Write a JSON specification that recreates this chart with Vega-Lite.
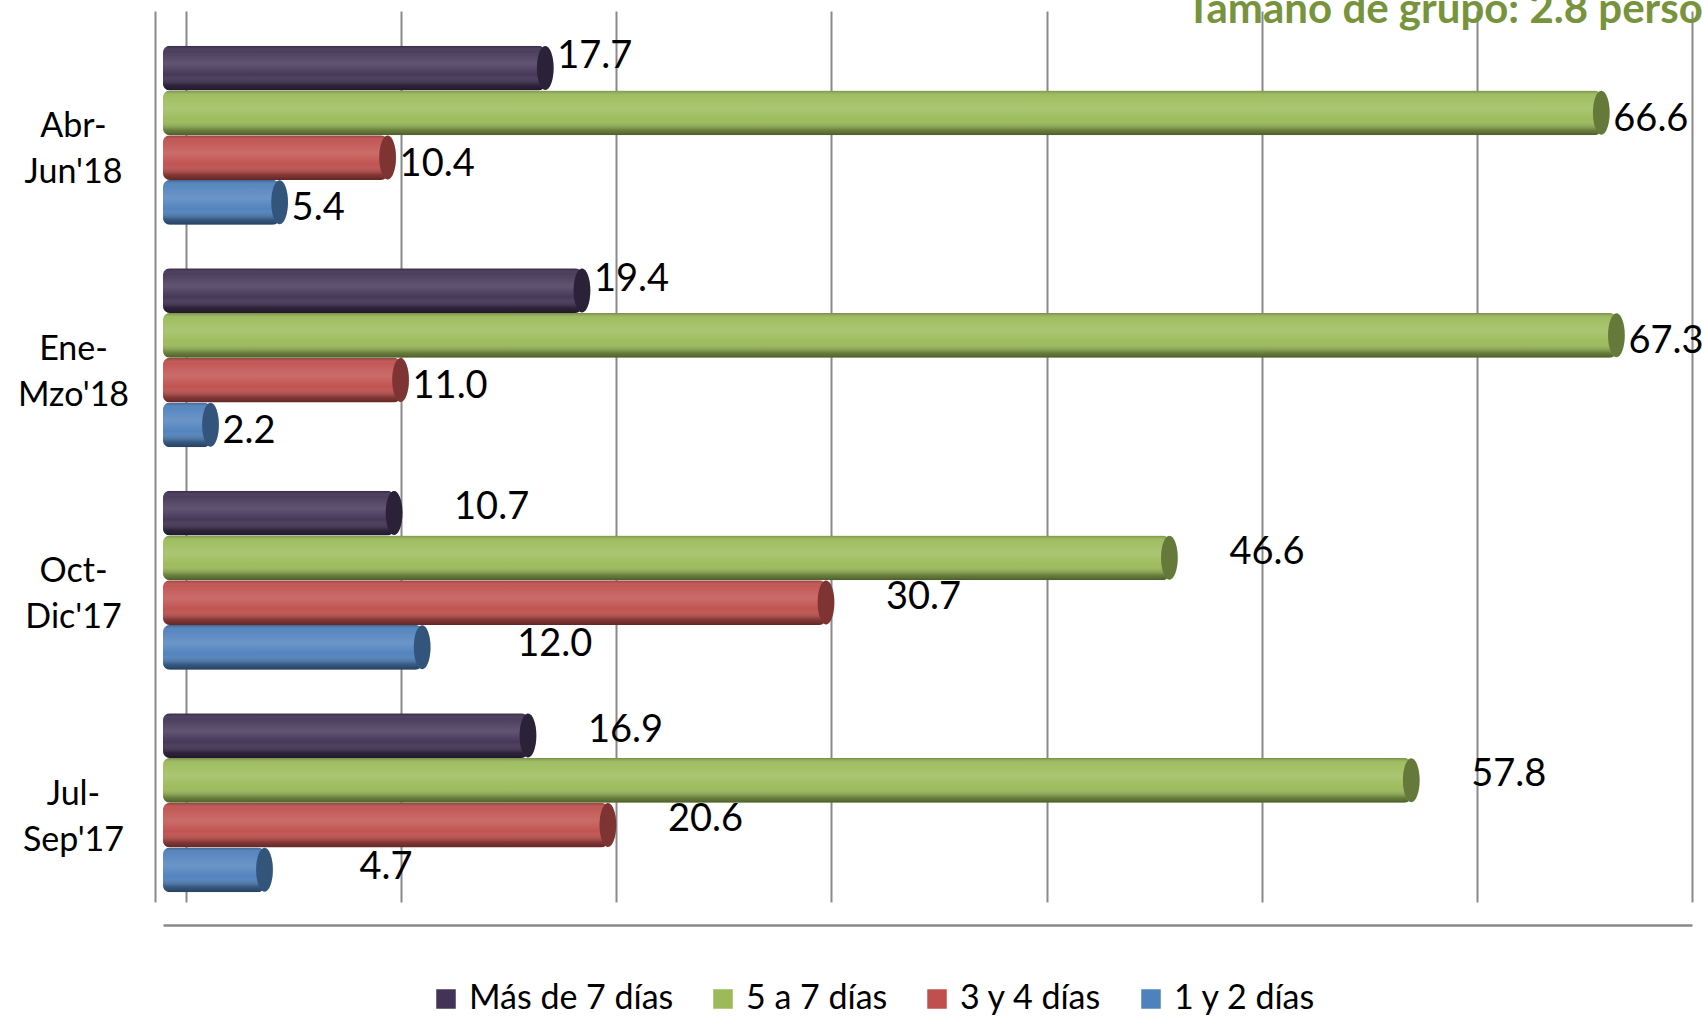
{
  "$schema": "https://vega.github.io/schema/vega-lite/v6.json",
  "width": 1529,
  "height": 891,
  "autosize": {"type": "none"},
  "padding": {"left": 163, "top": 11, "right": 10, "bottom": 114},
  "config": {"view": {"stroke": null}, "font": "Lato"},
  "title": {
    "text": "Tamaño de grupo: 2.8 personas",
    "anchor": "start",
    "frame": "group",
    "dx": 1023,
    "offset": 0,
    "dy": 54,
    "baseline": "alphabetic",
    "font": "Lato",
    "fontSize": 42,
    "fontWeight": "bold",
    "color": "#77933C"
  },
  "data": {
    "values": [
      {"period": "Abr-Jun'18", "series": "Más de 7 días", "value": 17.7},
      {"period": "Abr-Jun'18", "series": "5 a 7 días", "value": 66.6},
      {"period": "Abr-Jun'18", "series": "3 y 4 días", "value": 10.4},
      {"period": "Abr-Jun'18", "series": "1 y 2 días", "value": 5.4},
      {"period": "Ene-Mzo'18", "series": "Más de 7 días", "value": 19.4},
      {"period": "Ene-Mzo'18", "series": "5 a 7 días", "value": 67.3},
      {"period": "Ene-Mzo'18", "series": "3 y 4 días", "value": 11.0},
      {"period": "Ene-Mzo'18", "series": "1 y 2 días", "value": 2.2},
      {"period": "Oct-Dic'17", "series": "Más de 7 días", "value": 10.7},
      {"period": "Oct-Dic'17", "series": "5 a 7 días", "value": 46.6},
      {"period": "Oct-Dic'17", "series": "3 y 4 días", "value": 30.7},
      {"period": "Oct-Dic'17", "series": "1 y 2 días", "value": 12.0},
      {"period": "Jul-Sep'17", "series": "Más de 7 días", "value": 16.9},
      {"period": "Jul-Sep'17", "series": "5 a 7 días", "value": 57.8},
      {"period": "Jul-Sep'17", "series": "3 y 4 días", "value": 20.6},
      {"period": "Jul-Sep'17", "series": "1 y 2 días", "value": 4.7}
    ]
  },
  "resolve": {"scale": {"x": "independent"}},
  "layer": [
    {
      "mark": {"type": "point", "opacity": 0},
      "encoding": {
        "x": {
          "field": "value", "type": "quantitative",
          "scale": {"domain": [-1.07, 70], "nice": false, "zero": false},
          "axis": {
            "values": [0, 10, 20, 30, 40, 50, 60, 70],
            "grid": true, "gridColor": "#8a8a8a", "gridWidth": 2,
            "domain": true, "domainColor": "#8a8a8a", "domainWidth": 2.5,
            "offset": 23, "labels": false, "ticks": false, "title": null
          }
        },
        "y": {
          "field": "period", "type": "nominal",
          "sort": ["Abr-Jun'18", "Ene-Mzo'18", "Oct-Dic'17", "Jul-Sep'17"]
        }
      }
    },
    {
      "encoding": {
        "x": {
          "field": "value", "type": "quantitative",
          "scale": {"domain": [0, 70.8], "nice": false, "zero": true},
          "axis": null
        },
        "y": {
          "field": "period", "type": "nominal",
          "sort": ["Abr-Jun'18", "Ene-Mzo'18", "Oct-Dic'17", "Jul-Sep'17"],
          "scale": {"paddingInner": 0.1955, "paddingOuter": 0.1, "align": 0.78},
          "axis": {
            "title": null,
            "labelExpr": "[slice(datum.label,0,4), slice(datum.label,4)]",
            "labelFont": "Lato", "labelFontSize": 34, "labelColor": "#000000",
            "labelAlign": "center", "labelBaseline": "middle", "labelLineHeight": 46,
            "labelPadding": 82, "labelOffset": -8, "ticks": false, "tickSize": 0,
            "domain": true, "domainColor": "#8a8a8a", "domainWidth": 2,
            "offset": 8, "grid": false, "labelLimit": 300
          }
        },
        "yOffset": {
          "field": "series", "type": "nominal",
          "sort": ["Más de 7 días", "5 a 7 días", "3 y 4 días", "1 y 2 días"],
          "scale": {"paddingInner": 0, "paddingOuter": 0}
        }
      },
      "layer": [
        {
          "mark": {"type": "bar", "cornerRadius": 7},
          "encoding": {
            "color": {
              "field": "series", "type": "nominal",
              "sort": ["Más de 7 días", "5 a 7 días", "3 y 4 días", "1 y 2 días"],
              "scale": {
                "domain": ["Más de 7 días", "5 a 7 días", "3 y 4 días", "1 y 2 días"],
                "range": ["#433356", "#9BBB59", "#C0504D", "#4F81BD"]
              },
              "legend": {
                "orient": "none", "legendX": 266, "legendY": 971,
                "direction": "horizontal", "columns": 4, "title": null,
                "labelFont": "Lato", "labelFontSize": 34, "labelColor": "#000000",
                "symbolType": "square", "symbolSize": 380, "symbolStrokeWidth": 0,
                "labelOffset": 6, "columnPadding": 32, "padding": 0,
                "gridAlign": "each", "labelLimit": 400
              }
            }
          }
        },
        {
          "mark": {
            "type": "bar", "cornerRadius": 7,
            "fill": {
              "gradient": "linear", "x1": 0, "y1": 0, "x2": 0, "y2": 1,
              "stops": [
                {"offset": 0, "color": "rgba(0,0,0,0.25)"},
                {"offset": 0.12, "color": "rgba(255,255,255,0.05)"},
                {"offset": 0.4, "color": "rgba(255,255,255,0.16)"},
                {"offset": 0.65, "color": "rgba(255,255,255,0.02)"},
                {"offset": 0.88, "color": "rgba(0,0,0,0.3)"},
                {"offset": 1, "color": "rgba(0,0,0,0.5)"}
              ]
            }
          },
          "encoding": {}
        },
        {
          "mark": {
            "type": "point",
            "shape": "M0,-1A0.38,1,0,1,1,0,1A0.38,1,0,1,1,0,-1Z",
            "size": 1936, "filled": true, "opacity": 1, "strokeWidth": 0
          },
          "encoding": {
            "color": {
              "field": "series", "type": "nominal",
              "sort": ["Más de 7 días", "5 a 7 días", "3 y 4 días", "1 y 2 días"],
              "scale": {
                "domain": ["Más de 7 días", "5 a 7 días", "3 y 4 días", "1 y 2 días"],
                "range": ["#433356", "#9BBB59", "#C0504D", "#4F81BD"]
              }
            }
          }
        },
        {
          "mark": {
            "type": "point",
            "shape": "M0,-1A0.38,1,0,1,1,0,1A0.38,1,0,1,1,0,-1Z",
            "size": 1936, "filled": true, "color": "#000000", "opacity": 0.35, "strokeWidth": 0
          },
          "encoding": {}
        },
        {
          "transform": [{"filter": "indexof(datum.period, '18') >= 0 && datum.series != 'Más de 7 días'"}],
          "mark": {"type": "text", "align": "left", "baseline": "middle", "dx": 12, "dy": 7, "font": "Lato", "fontSize": 38, "color": "#000000"},
          "encoding": {"text": {"field": "value", "type": "quantitative", "format": ".1f"}}
        },
        {
          "transform": [{"filter": "indexof(datum.period, '18') >= 0 && datum.series == 'Más de 7 días'"}],
          "mark": {"type": "text", "align": "left", "baseline": "middle", "dx": 12, "dy": -11, "font": "Lato", "fontSize": 38, "color": "#000000"},
          "encoding": {"text": {"field": "value", "type": "quantitative", "format": ".1f"}}
        },
        {
          "transform": [{"filter": "indexof(datum.period, '17') >= 0 && datum.series != '1 y 2 días'"}],
          "mark": {"type": "text", "align": "left", "baseline": "middle", "dx": 60, "dy": -5, "font": "Lato", "fontSize": 38, "color": "#000000"},
          "encoding": {"text": {"field": "value", "type": "quantitative", "format": ".1f"}}
        },
        {
          "transform": [{"filter": "indexof(datum.period, '17') >= 0 && datum.series == '1 y 2 días'"}],
          "mark": {"type": "text", "align": "left", "baseline": "middle", "dx": 95, "dy": -2, "font": "Lato", "fontSize": 38, "color": "#000000"},
          "encoding": {"text": {"field": "value", "type": "quantitative", "format": ".1f"}}
        }
      ]
    }
  ]
}
